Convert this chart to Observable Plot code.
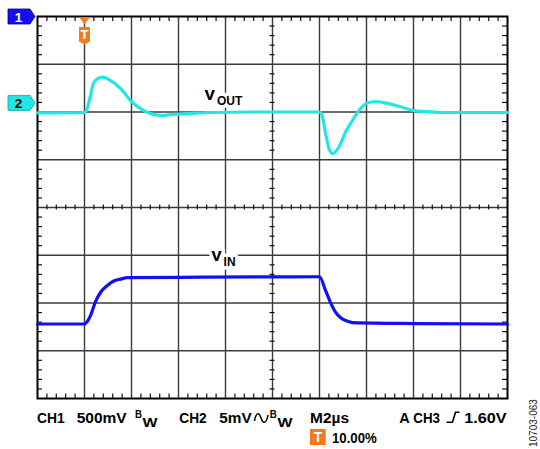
<!DOCTYPE html>
<html>
<head>
<meta charset="utf-8">
<script src="https://cdn.jsdelivr.net/npm/d3@7"></script>
<script src="https://cdn.jsdelivr.net/npm/@observablehq/plot@0.6"></script>
<style>
  html, body { margin: 0; padding: 0; background: #fff; }
  #wrap { position: relative; width: 540px; height: 449px; overflow: hidden; }
  svg { display: block; }
</style>
</head>
<body>
<div id="wrap"></div>
<script>
// ---- data (time in divisions 0..10, level in divisions 0..8) ----
const ch2Time  = [0, 1.0, 1.04, 1.13, 1.19, 1.28, 1.40, 1.55, 1.77, 1.98, 2.19, 2.40, 2.62, 2.89, 3.26, 3.68, 4.53, 5.60, 5.98, 6.04, 6.13, 6.20, 6.28, 6.34, 6.41, 6.55, 6.70, 6.84, 6.98, 7.19, 7.44, 7.72, 8.0, 8.29, 8.6, 9.0, 10];
const ch2Level = [5.98, 5.99, 6.03, 6.35, 6.60, 6.70, 6.73, 6.66, 6.49, 6.24, 6.07, 5.97, 5.93, 5.95, 5.97, 5.99, 6.0, 6.0, 6.0, 5.97, 5.55, 5.24, 5.13, 5.17, 5.26, 5.57, 5.82, 6.03, 6.17, 6.22, 6.18, 6.11, 6.03, 6.01, 5.99, 5.99, 5.99];
const ch1Time  = [0, 1.0, 1.02, 1.13, 1.23, 1.34, 1.48, 1.62, 1.77, 1.91, 3.5, 6.0, 6.13, 6.23, 6.34, 6.45, 6.59, 6.70, 8.0, 10];
const ch1Level = [1.56, 1.56, 1.57, 1.74, 2.02, 2.22, 2.36, 2.46, 2.50, 2.53, 2.54, 2.55, 2.26, 2.02, 1.81, 1.69, 1.62, 1.59, 1.57, 1.56];

const majorX = [1, 2, 3, 4, 5, 6, 7, 8, 9];
const majorY = [1, 2, 3, 4, 5, 6, 7];

const traceLabelMain = ["V", "V"];
const traceLabelSub  = ["OUT", "IN"];

const channelNames  = ["1", "2"];
const channelLevels = [8, 6.18];
const triggerTime = 1.0;

const footerTokens = ["CH1", "500mV", "B", "W", "CH2", "5mV", "B", "W", "M2µs", "A", "CH3", "1.60V", "10.00%"];
const triggerText = "T";
const figureId = "10703-063";

// ---- layout / style ----
const W = 540, H = 402;
const mL = 37, mR = 33, mT = 16, mB = 4;
const plotW = W - mL - mR, plotH = H - mT - mB;
const cyan = "#22e6e6", blue = "#1010f0", orange = "#f47a1e";
const font = "'Liberation Sans', Arial, Helvetica, sans-serif";

const minorX = d3.range(0.2, 10, 0.2).filter(v => Math.abs(v - Math.round(v)) > 0.01);
const minorY = d3.range(0.2, 8, 0.2).filter(v => Math.abs(v - Math.round(v)) > 0.01);

const ch2 = ch2Time.map((t, i) => ({t, v: ch2Level[i]}));
const ch1 = ch1Time.map((t, i) => ({t, v: ch1Level[i]}));

// label layout (division units)
const labelPos = [
  {x: 3.56, y: 6.36, sx: 3.82, sy: 6.235},
  {x: 3.70, y: 2.975, sx: 3.96, sy: 2.86}
];
const labels = labelPos.map((p, i) => ({...p, main: traceLabelMain[i], sub: traceLabelSub[i]}));

const tickStyle = {stroke: "#111", strokeWidth: 1.2};
const chart = Plot.plot({
  width: W, height: H,
  marginLeft: mL, marginRight: mR, marginTop: mT, marginBottom: mB,
  x: {domain: [0, 10], axis: null},
  y: {domain: [0, 8], axis: null},
  style: {background: "white", fontFamily: font, overflow: "visible"},
  marks: [
    Plot.ruleX(majorX, {stroke: "#3a3a3a", strokeWidth: 1.4}),
    Plot.ruleY(majorY, {stroke: "#3a3a3a", strokeWidth: 1.4}),
    Plot.tickX(minorX, {x: d => d, insetBottom: plotH - 5, ...tickStyle}),
    Plot.tickX(minorX, {x: d => d, insetTop: plotH - 4.5, ...tickStyle}),
    Plot.tickX(minorX, {x: d => d, insetTop: plotH / 2 - 2.5, insetBottom: plotH / 2 - 2.5, ...tickStyle}),
    Plot.tickY(minorY, {y: d => d, insetRight: plotW - 5, ...tickStyle}),
    Plot.tickY(minorY, {y: d => d, insetLeft: plotW - 5, ...tickStyle}),
    Plot.tickY(minorY, {y: d => d, insetLeft: plotW / 2 - 2.5, insetRight: plotW / 2 - 2.5, ...tickStyle}),
    Plot.frame({stroke: "#000", strokeWidth: 2}),
    Plot.line(ch2, {x: "t", y: "v", stroke: cyan, strokeWidth: 3.2, curve: "monotone-x"}),
    Plot.line(ch1, {x: "t", y: "v", stroke: blue, strokeWidth: 3.2, curve: "monotone-x"}),
    Plot.text(labels, {x: "x", y: "y", text: "main", textAnchor: "start", fontSize: 15, fontWeight: "bold", fill: "#000", stroke: "white", strokeWidth: 7, paintOrder: "stroke"}),
    Plot.text(labels, {x: "sx", y: "sy", text: "sub", textAnchor: "start", fontSize: 12, fontWeight: "bold", fill: "#000", stroke: "white", strokeWidth: 7, paintOrder: "stroke"}),
    Plot.text(labels, {x: "x", y: "y", text: "main", textAnchor: "start", fontSize: 15, fontWeight: "bold", fill: "#000"})
  ]
});

document.getElementById("wrap").appendChild(chart);

// channel markers and trigger marker drawn with the chart's scales
const xS = chart.scale("x"), yS = chart.scale("y");
const svg = d3.select(chart);
const mk = svg.append("g").attr("font-family", font).attr("font-weight", "bold");
channelNames.forEach((name, i) => {
  const cy = yS.apply(channelLevels[i]) + (i === 0 ? 0.5 : 0);
  mk.append("path")
    .attr("d", `M8,${cy - 7.5}H30L35,${cy}L30,${cy + 7.5}H8Z`)
    .attr("fill", i === 0 ? blue : cyan)
    .attr("stroke", i === 0 ? "#000080" : "#10a0a0")
    .attr("stroke-width", 0.8);
  mk.append("text").attr("x", 18.5).attr("y", cy + 5).attr("text-anchor", "middle")
    .attr("font-size", 13.5).attr("fill", i === 0 ? "#fff" : "#000").text(name);
});
const tx = xS.apply(triggerTime) + 0.5;
mk.append("path").attr("d", `M${tx - 5.5},17H${tx + 5.5}L${tx},24.5Z`).attr("fill", orange);
mk.append("path").attr("d", `M${tx - 5.5},27H${tx + 5.5}V41.5L${tx},44.5L${tx - 5.5},41.5Z`).attr("fill", orange);
mk.append("text").attr("x", tx).attr("y", 39).attr("text-anchor", "middle")
  .attr("font-size", 13).attr("fill", "#fff").text(triggerText);

// ---- footer (caption) below the SVG ----
const FH = 47, off = H;
const foot = d3.select("#wrap").append("svg")
  .attr("width", W).attr("height", FH)
  .style("overflow", "visible")
  .attr("font-family", font).attr("font-weight", "bold").attr("fill", "#000");

const bl = 422.7 - off, blSup = 417.6 - off, blSub = 426.6 - off, bl2 = 443 - off;
const tokLayout = [
  {x: 37, y: bl, s: 14.5, len: 27.7},
  {x: 76.7, y: bl, s: 14.5, len: 50},
  {x: 135, y: blSup, s: 10.5, len: 7},
  {x: 142.5, y: blSub, s: 13, len: 15},
  {x: 179.3, y: bl, s: 14.5, len: 27.4},
  {x: 219.3, y: bl, s: 14.5, len: 32.4},
  {x: 269.8, y: blSup, s: 10.5, len: 7},
  {x: 277.5, y: blSub, s: 13, len: 15},
  {x: 310, y: bl, s: 14.5, len: 39},
  {x: 399.3, y: bl, s: 14.5},
  {x: 413.3, y: bl, s: 14.5, len: 26.7},
  {x: 464.3, y: bl, s: 14.5, len: 42.4},
  {x: 332, y: bl2, s: 14.5, len: 44.7}
];
footerTokens.forEach((tok, i) => {
  const L = tokLayout[i];
  const t = foot.append("text").attr("x", L.x).attr("y", L.y).attr("font-size", L.s).text(tok);
  if (L.len) t.attr("textLength", L.len).attr("lengthAdjust", "spacingAndGlyphs");
});
// AC coupling sine symbol
foot.append("path")
  .attr("d", `M254.5,${421 - off} C256,${412 - off} 259,${412 - off} 261,${418 - off} C263,${424 - off} 266.5,${424 - off} 268,${415 - off}`)
  .attr("fill", "none").attr("stroke", "#000").attr("stroke-width", 1.5);
// rising edge trigger symbol
foot.append("path")
  .attr("d", `M446.5,${422.3 - off}H452.5L455.5,${412.3 - off}H459.5`)
  .attr("fill", "none").attr("stroke", "#000").attr("stroke-width", 1.6);
// trigger position box
foot.append("rect").attr("x", 310).attr("y", 429 - off).attr("width", 15.7).attr("height", 16).attr("fill", orange);
foot.append("text").attr("x", 318).attr("y", 442 - off).attr("text-anchor", "middle")
  .attr("font-size", 14).attr("fill", "#fff").text(triggerText);
// figure id, rotated
foot.append("text")
  .attr("transform", `translate(537,${447 - off}) rotate(-90)`)
  .attr("font-size", 10).attr("font-weight", "normal").attr("fill", "#222")
  .text(figureId);
</script>
</body>
</html>
